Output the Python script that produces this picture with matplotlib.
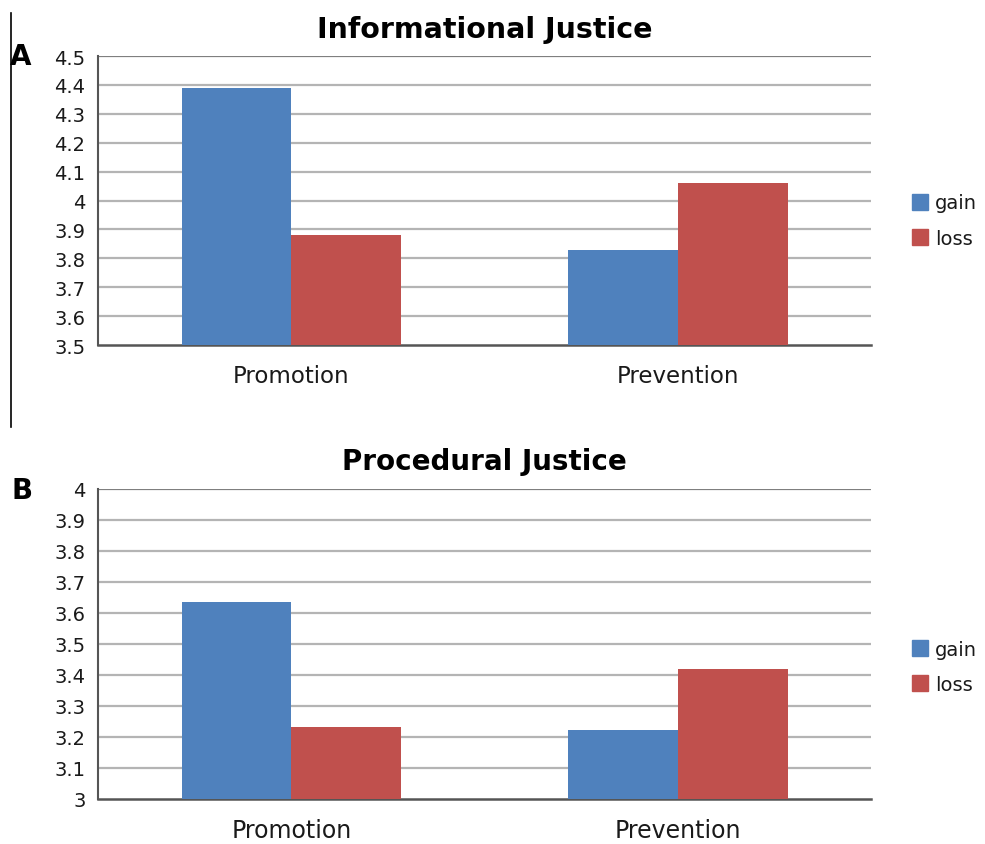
import numpy as np
import matplotlib
matplotlib.use("Agg")
import matplotlib.pyplot as plt
from matplotlib.lines import Line2D

categories = ["Promotion", "Prevention"]
series = ["gain", "loss"]
colors = ["#4F81BD", "#C0504D"]

info_gain = [4.39, 3.83]
info_loss = [3.88, 4.06]
proc_gain = [3.636, 3.223]
proc_loss = [3.233, 3.42]

info_ticks = [3.5, 3.6, 3.7, 3.8, 3.9, 4.0, 4.1, 4.2, 4.3, 4.4, 4.5]
info_labels = ["3.5", "3.6", "3.7", "3.8", "3.9", "4", "4.1", "4.2", "4.3", "4.4", "4.5"]
proc_ticks = [3.0, 3.1, 3.2, 3.3, 3.4, 3.5, 3.6, 3.7, 3.8, 3.9, 4.0]
proc_labels = ["3", "3.1", "3.2", "3.3", "3.4", "3.5", "3.6", "3.7", "3.8", "3.9", "4"]

plt.rcParams["font.family"] = ["DejaVu Sans"]

fig = plt.figure(figsize=(9.85, 8.45), dpi=100)
ax1 = fig.add_axes([0.0995, 0.5905, 0.785, 0.342])
ax2 = fig.add_axes([0.0995, 0.0533, 0.785, 0.3669])


def draw(ax, gain, loss, ticks, labels, title, tfs, xfs, leg_y):
    x = np.arange(len(categories))
    w = 0.284
    ax.bar(x - w / 2, np.array(gain) - ticks[0], w, bottom=ticks[0], color=colors[0], zorder=3)
    ax.bar(x + w / 2, np.array(loss) - ticks[0], w, bottom=ticks[0], color=colors[1], zorder=3)
    ax.set_xlim(-0.5, 1.5)
    ax.set_ylim(ticks[0], ticks[-1])
    ax.set_yticks(ticks)
    ax.set_yticklabels(labels, fontsize=14, color="#1a1a1a")
    ax.set_xticks(x)
    ax.set_xticklabels(categories, fontsize=xfs, color="#1a1a1a")
    ax.tick_params(axis="y", length=0, pad=9)
    ax.tick_params(axis="x", length=0, pad=14)
    for t in ticks[1:-1]:
        ax.axhline(t, color="#b4b4b4", lw=1.6, zorder=1)
    ax.axhline(ticks[-1], color="#7f7f7f", lw=1.6, zorder=1)
    ax.spines["right"].set_visible(False)
    ax.spines["top"].set_visible(False)
    ax.spines["left"].set_color("#555555")
    ax.spines["bottom"].set_color("#555555")
    ax.spines["left"].set_linewidth(1.5)
    ax.spines["bottom"].set_linewidth(1.8)
    ax.set_title(title, fontsize=tfs, fontweight="bold", pad=14)
    handles = [Line2D([], [], marker="s", ls="", color=c, markersize=11) for c in colors]
    ax.legend(handles, series, loc="center left", bbox_to_anchor=(1.028, leg_y),
              frameon=False, prop={"size": 14}, labelcolor="#1a1a1a",
              handletextpad=0.25, labelspacing=0.85, handlelength=1.0)


draw(ax1, info_gain, info_loss, info_ticks, info_labels, "Informational Justice",
     20.5, 16.5, 0.43)
draw(ax2, proc_gain, proc_loss, proc_ticks, proc_labels, "Procedural Justice",
     20, 17, 0.426)

fig.text(0.010, 0.923, "A", fontsize=20, fontweight="bold")
fig.text(0.012, 0.409, "B", fontsize=20, fontweight="bold")
fig.add_artist(Line2D([0.011, 0.011], [0.494, 0.983], color="black", lw=1.2,
                      transform=fig.transFigure))

fig.savefig("out.png", dpi=100)
